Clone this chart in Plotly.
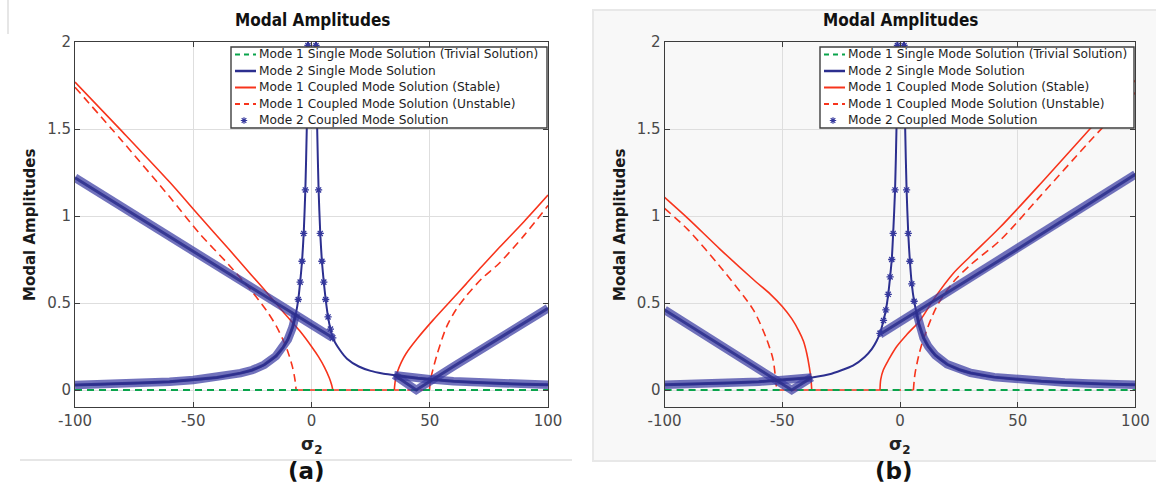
import plotly.graph_objects as go

# ---------------- data ----------------
SIGMA_RANGE = [-100, 100]
AMP_RANGE = [-0.1, 2]
X_TICKS = [-100, -50, 0, 50, 100]
X_TICKTEXT = ["-100", "-50", "0", "50", "100"]
Y_TICKS = [0, 0.5, 1, 1.5, 2]
Y_TICKTEXT = ["0", "0.5", "1", "1.5", "2"]

NAMES = ["Mode 1 Single Mode Solution (Trivial Solution)",
         "Mode 2 Single Mode Solution",
         "Mode 1 Coupled Mode Solution (Stable)",
         "Mode 1 Coupled Mode Solution (Unstable)",
         "Mode 2 Coupled Mode Solution"]

# ---- panel (a) ----
a_trivial_x = [-100, 100]
a_trivial_y = [0, 0]

a_single_x = [-100, -90, -80, -70, -60, -50, -40, -30, -25, -20, -15, -12, -10, -8, -6.6,
              -5.6, -4.8, -4.0, -3.3, -2.6, -2.0, -1.5, -1.0, 0.2, 1.4, 1.9, 2.4, 3.0, 3.7,
              4.4, 5.2, 6.0, 7.0, 8.0, 9.0, 12, 15, 20, 25, 30, 35, 40, 45, 50, 60, 70, 80, 90, 100]
a_single_y = [0.029, 0.032, 0.036, 0.042, 0.048, 0.058, 0.072, 0.097, 0.115, 0.145, 0.195, 0.245, 0.29, 0.36, 0.44,
              0.52, 0.62, 0.74, 0.90, 1.15, 1.50, 1.98, 3.0, 4.0, 3.0, 1.98, 1.50, 1.15, 0.90,
              0.74, 0.62, 0.52, 0.42, 0.35, 0.30, 0.23, 0.18, 0.135, 0.11, 0.095, 0.085, 0.075, 0.068, 0.062,
              0.05, 0.043, 0.037, 0.033, 0.03]

a_stable_x = [-100, -80, -60, -47.4, -35, -26, -19.2, -11.4, -5, 0, 3, 5.5, 7.5, 8.5, 9, None,
              9, 35, None,
              35, 35.5, 36.5, 38, 40, 45, 51.3, 58, 65.4, 72, 79.5, 90, 100]
a_stable_y = [1.77, 1.485, 1.195, 1.0, 0.81, 0.67, 0.565, 0.44, 0.34, 0.25, 0.19, 0.13, 0.07, 0.03, 0, None,
              0, 0, None,
              0, 0.06, 0.11, 0.16, 0.21, 0.30, 0.40, 0.50, 0.61, 0.71, 0.82, 0.97, 1.12]

a_unstable_x = [-100, -80, -60, -47.4, -35, -26, -19.2, -15, -12.1, -10, -8, -7, -6.5, None,
                -6.5, 9, None,
                35, 49.9, None,
                49.9, 50.3, 51.2, 53, 57, 61, 65.4, 72, 79.5, 90, 100]
a_unstable_y = [1.74, 1.43, 1.11, 0.90, 0.72, 0.58, 0.46, 0.37, 0.29, 0.22, 0.13, 0.06, 0, None,
                0, 0, None,
                0, 0, None,
                0, 0.06, 0.11, 0.20, 0.36, 0.46, 0.54, 0.64, 0.73, 0.89, 1.06]

# mode 2 coupled solution: dense asterisk bands + the sparse asterisks on the resonance peak
a_coupled_band_x = [-100, -75, -50, -25, 0, 9, None, 35, 44.3, 60, 80, 100, None,
                    -100, -90, -80, -70, -60, -50, -40, -30, -25, -20, -15, -12, -10, -8, -6.6, None,
                    35, 40, 45, 50, 60, 70, 80, 90, 100]
a_coupled_band_y = [1.22, 1.01, 0.80, 0.585, 0.375, 0.30, None, 0.086, 0.0, 0.135, 0.305, 0.47, None,
                    0.029, 0.032, 0.036, 0.042, 0.048, 0.058, 0.072, 0.097, 0.115, 0.145, 0.195, 0.245, 0.29,
                    0.36, 0.44, None,
                    0.085, 0.075, 0.068, 0.062, 0.05, 0.043, 0.037, 0.033, 0.03]
a_coupled_peak_x = [-5.6, -4.8, -4.0, -3.3, -2.6, -1.5, 1.9, 3.0, 3.7, 4.4, 5.2, 6.0, 7.0, 8.0, 9.0]
a_coupled_peak_y = [0.52, 0.62, 0.74, 0.90, 1.15, 1.98, 1.98, 1.15, 0.90, 0.74, 0.62, 0.52, 0.42, 0.35, 0.30]

# ---- panel (b) ----
b_trivial_x = [-100, 100]
b_trivial_y = [0, 0]

b_single_x = [-100, -90, -80, -70, -60, -50, -46, -40, -37.5, -30, -20, -15, -12, -10, -8.5,
              -7, -6, -5, -4.2, -3.5, -2.9, -2.1, -1.5, -1.1, -0.6, 0.3, 1.2, 1.7, 2.2, 2.8,
              3.5, 4.2, 5.0, 6.0, 7.0, 8.0, 10, 12, 15, 20, 25, 30, 40, 50, 60, 70, 80, 90, 100]
b_single_y = [0.03, 0.033, 0.037, 0.042, 0.048, 0.058, 0.062, 0.067, 0.072, 0.09, 0.14, 0.19, 0.235, 0.28, 0.326,
              0.40, 0.46, 0.55, 0.65, 0.75, 0.90, 1.15, 1.50, 1.98, 3.0, 4.0, 3.0, 1.98, 1.50, 1.15,
              0.90, 0.74, 0.61, 0.51, 0.445, 0.38, 0.30, 0.25, 0.20, 0.148, 0.118, 0.098, 0.074, 0.06,
              0.05, 0.043, 0.037, 0.033, 0.03]

b_stable_x = [-100, -90, -76.5, -62.3, -55, -50, -46, -43, -41, -39.6, -38.5, -37.8, -37.5, None,
              -37.5, -8.5, None,
              -8.5, -8.2, -7.1, -5, -1.4, 3, 8.5, 15, 22.6, 30, 42.5, 60, 80, 100]
b_stable_y = [1.107, 0.985, 0.81, 0.635, 0.55, 0.48, 0.41, 0.34, 0.28, 0.21, 0.13, 0.06, 0, None,
              0, 0, None,
              0, 0.06, 0.115, 0.17, 0.25, 0.32, 0.40, 0.535, 0.67, 0.77, 0.935, 1.19, 1.49, 1.78]

b_unstable_x = [-100, -90, -76.5, -62.3, -56.6, -54, -53.1, -52.4, None,
                -52.4, -37.5, None,
                -8.5, 5.7, None,
                5.7, 6.0, 6.4, 8, 9.9, 15.6, 22.6, 30, 42.5, 60, 80, 100]
b_unstable_y = [1.044, 0.92, 0.71, 0.46, 0.29, 0.18, 0.096, 0, None,
                0, 0, None,
                0, 0, None,
                0, 0.05, 0.096, 0.20, 0.29, 0.48, 0.62, 0.72, 0.86, 1.12, 1.42, 1.71]

b_coupled_band_x = [-100, -75, -46, -37.5, None, -8.5, 10, 25, 50, 75, 100, None,
                    -100, -90, -80, -70, -60, -50, -46, -40, -37.5, None,
                    7.0, 8.0, 10, 12, 15, 20, 25, 30, 40, 50, 60, 70, 80, 90, 100]
b_coupled_band_y = [0.46, 0.245, 0.0, 0.072, None, 0.32, 0.475, 0.60, 0.81, 1.025, 1.24, None,
                    0.03, 0.033, 0.037, 0.042, 0.048, 0.058, 0.062, 0.067, 0.072, None,
                    0.445, 0.38, 0.30, 0.25, 0.20, 0.148, 0.118, 0.098, 0.074, 0.06, 0.05, 0.043,
                    0.037, 0.033, 0.03]
b_coupled_peak_x = [-8.5, -7, -6, -5, -4.2, -3.5, -2.9, -2.1, -1.1, 1.7, 2.8, 3.5, 4.2, 5.0, 6.0]
b_coupled_peak_y = [0.326, 0.40, 0.46, 0.55, 0.65, 0.75, 0.90, 1.15, 1.98, 1.98, 1.15, 0.90, 0.74, 0.61, 0.51]

# ---------------- styles ----------------
GREEN = "#0aa44c"
BLUE = "#2c2f8f"
BLUE_MK = "#34379c"
BAND = "rgba(58,60,162,0.72)"
BAND_CORE = "rgba(44,46,140,0.85)"
RED = "#f7341c"
W, H = 1156, 496

fig = go.Figure()


def add_panel(sfx, trivial, single, stable, unstable, band, peak):
    common = dict(xaxis="x" + sfx, yaxis="y" + sfx, showlegend=False, hoverinfo="skip")
    fig.add_trace(go.Scatter(x=stable[0], y=stable[1], mode="lines", name=NAMES[2],
                             line=dict(color=RED, width=1.6, shape="spline", smoothing=0.8), **common))
    fig.add_trace(go.Scatter(x=unstable[0], y=unstable[1], mode="lines", name=NAMES[3],
                             line=dict(color=RED, width=1.6, dash="8px,5px", shape="spline", smoothing=0.8),
                             **common))
    fig.add_trace(go.Scatter(x=trivial[0], y=trivial[1], mode="lines", name=NAMES[0],
                             line=dict(color=GREEN, width=2, dash="7px,5px"), **common))
    fig.add_trace(go.Scatter(x=single[0], y=single[1], mode="lines", name=NAMES[1],
                             line=dict(color=BLUE, width=2, shape="spline", smoothing=0.6), **common))
    fig.add_trace(go.Scatter(x=band[0], y=band[1], mode="lines", name=NAMES[4],
                             line=dict(color=BAND, width=8.5), **common))
    fig.add_trace(go.Scatter(x=band[0], y=band[1], mode="lines", name=NAMES[4],
                             line=dict(color=BAND_CORE, width=3), **common))
    fig.add_trace(go.Scatter(x=peak[0], y=peak[1], mode="markers", name=NAMES[4],
                             marker=dict(symbol="asterisk-open", size=6, color=BLUE_MK,
                                         line=dict(color=BLUE_MK, width=1.3)), **common))


add_panel("", (a_trivial_x, a_trivial_y), (a_single_x, a_single_y), (a_stable_x, a_stable_y),
          (a_unstable_x, a_unstable_y), (a_coupled_band_x, a_coupled_band_y),
          (a_coupled_peak_x, a_coupled_peak_y))
add_panel("2", (b_trivial_x, b_trivial_y), (b_single_x, b_single_y), (b_stable_x, b_stable_y),
          (b_unstable_x, b_unstable_y), (b_coupled_band_x, b_coupled_band_y),
          (b_coupled_peak_x, b_coupled_peak_y))

TICKFONT = dict(family="DejaVu Sans, Verdana, sans-serif", size=15, color="#4a4a4a")


def xax(x0, x1):
    return dict(domain=[x0 / W, x1 / W], range=SIGMA_RANGE, tickvals=X_TICKS, ticktext=X_TICKTEXT,
                showline=True, linecolor="#3c3c3c", linewidth=1, mirror="ticks", ticks="inside", ticklen=5,
                tickcolor="#3c3c3c", showgrid=True, gridcolor="#dedede", gridwidth=1, zeroline=False,
                tickfont=TICKFONT, fixedrange=True, automargin=False)


def yax(anchor):
    return dict(domain=[(H - 407.4) / H, (H - 42) / H], range=AMP_RANGE, tickvals=Y_TICKS,
                ticktext=Y_TICKTEXT, anchor=anchor, showline=True, linecolor="#3c3c3c", linewidth=1,
                mirror="ticks", ticks="inside", ticklen=5, tickcolor="#3c3c3c", showgrid=True,
                gridcolor="#dedede", gridwidth=1, zeroline=False, tickfont=TICKFONT, fixedrange=True,
                automargin=False)


TITLEFONT = dict(family="DejaVu Sans Condensed, DejaVu Sans, sans-serif", size=17, color="#111111")
LABFONT = dict(family="DejaVu Sans, Verdana, sans-serif", size=15, color="#1a1a1a")
LEGFONT = dict(family="DejaVu Sans, Verdana, sans-serif", size=12.2, color="#1e1e1e")


def px(x):
    return x / W


def py(y):
    return (H - y) / H


annotations, shapes = [], []
for cx, lx, tag in [(312, 30, "(a)"), (900, 620, "(b)")]:
    annotations.append(dict(text="<b>Modal Amplitudes</b>", x=px(cx), y=py(20), xref="paper", yref="paper",
                            showarrow=False, font=TITLEFONT, xanchor="center", yanchor="middle"))
    annotations.append(dict(text="<b>Modal Amplitudes</b>", x=px(lx), y=py(225), xref="paper", yref="paper",
                            showarrow=False, font=LABFONT, textangle=-90, xanchor="center", yanchor="middle"))
    annotations.append(dict(text="<b>σ<sub>2</sub></b>", x=px(cx), y=py(445), xref="paper", yref="paper",
                            showarrow=False, font=dict(family="DejaVu Sans", size=17, color="#222"),
                            xanchor="center", yanchor="middle"))
    annotations.append(dict(text="<b>" + tag + "</b>", x=px(cx - 6), y=py(471), xref="paper", yref="paper",
                            showarrow=False, font=dict(family="DejaVu Sans, sans-serif", size=23, color="#111"),
                            xanchor="center", yanchor="middle"))

# page frames
shapes += [
    dict(type="rect", xref="paper", yref="paper", x0=px(593), x1=1.01, y0=py(461), y1=py(10),
         fillcolor="#f8f8f8", line=dict(color="#e8e8e8", width=2), layer="below"),
    dict(type="line", xref="paper", yref="paper", x0=px(20), x1=px(572), y0=py(460), y1=py(460),
         line=dict(color="#e6e6e6", width=2), layer="below"),
    dict(type="line", xref="paper", yref="paper", x0=px(8), x1=px(8), y0=py(34), y1=1,
         line=dict(color="#e6e6e6", width=2), layer="below"),
]

# legends (MATLAB style box, compact rows)
ROW_DY = [7.5, 24, 40.5, 57, 73.5]
SAMPLES = [dict(color=GREEN, width=2, dash="5px,4px"), dict(color=BLUE, width=2.5, dash="solid"),
           dict(color=RED, width=2, dash="solid"), dict(color=RED, width=2, dash="5px,4px"), None]
for lx0, lx1 in [(231, 547), (820, 1134)]:
    top, bot = 47, 128
    shapes.append(dict(type="rect", xref="paper", yref="paper", x0=px(lx0), x1=px(lx1), y0=py(bot), y1=py(top),
                       fillcolor="white", line=dict(color="#3f3f3f", width=1.4), layer="above"))
    for name, dy, smp in zip(NAMES, ROW_DY, SAMPLES):
        yc = top + dy
        if smp is not None:
            shapes.append(dict(type="line", xref="paper", yref="paper", x0=px(lx0 + 4), x1=px(lx0 + 25),
                               y0=py(yc), y1=py(yc), line=smp, layer="above"))
        else:
            shapes.append(dict(type="path", xref="paper", yref="paper", xsizemode="pixel", ysizemode="pixel",
                               xanchor=px(lx0 + 13), yanchor=py(yc),
                               path="M-3.2,0 L3.2,0 M0,-3.2 L0,3.2 M-2.3,-2.3 L2.3,2.3 M-2.3,2.3 L2.3,-2.3",
                               line=dict(color=BLUE_MK, width=1.2), layer="above"))
        annotations.append(dict(text=name, x=px(lx0 + 26), y=py(yc), xref="paper", yref="paper",
                                showarrow=False, font=LEGFONT, xanchor="left", yanchor="middle"))

fig.update_layout(
    width=W, height=H, margin=dict(l=0, r=0, t=0, b=0, pad=0, autoexpand=False), autosize=False,
    paper_bgcolor="white", plot_bgcolor="white", showlegend=False,
    xaxis=xax(75, 548), yaxis=yax("x"),
    xaxis2=xax(664.6, 1135.4), yaxis2=yax("x2"),
    annotations=annotations, shapes=shapes,
)

fig.write_html("out.html")
